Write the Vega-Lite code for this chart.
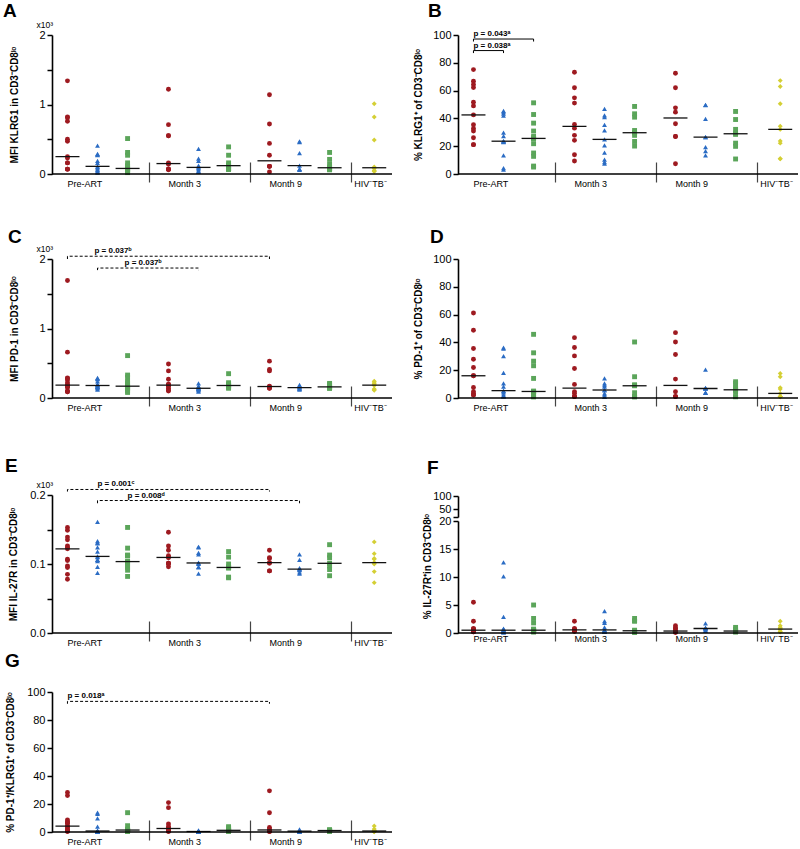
{
"$schema":"https://vega.github.io/schema/vega-lite/v6.json",
"background":"white",
"padding":{"left":3,"top":0,"right":0,"bottom":0},
"config":{"view":{"stroke":null},"font":"Liberation Sans",
"axis":{"grid":false,"domainColor":"#000","tickColor":"#000","labelColor":"#000","titleColor":"#000","labelFont":"Liberation Sans","titleFont":"Liberation Sans"},
"axisY":{"domainWidth":1.6,"tickWidth":1.5,"tickSize":5,"labelFontSize":11,"labelPadding":2,"titleFontSize":10,"titleFontWeight":"bold","labelOverlap":false},
"title":{"font":"Liberation Sans","color":"#000"}},
"datasets":{
"A":[
{"time":"Pre-ART","group":"G1","value":1.34},{"time":"Pre-ART","group":"G1","value":0.82},{"time":"Pre-ART","group":"G1","value":0.81},{"time":"Pre-ART","group":"G1","value":0.76},{"time":"Pre-ART","group":"G1","value":0.5},{"time":"Pre-ART","group":"G1","value":0.47},{"time":"Pre-ART","group":"G1","value":0.25},{"time":"Pre-ART","group":"G1","value":0.23},{"time":"Pre-ART","group":"G1","value":0.16},{"time":"Pre-ART","group":"G1","value":0.16},{"time":"Pre-ART","group":"G1","value":0.07},{"time":"Pre-ART","group":"G1","value":0.07},{"time":"Pre-ART","group":"G1","value":0.07},
{"time":"Pre-ART","group":"G2","value":0.41},{"time":"Pre-ART","group":"G2","value":0.29},{"time":"Pre-ART","group":"G2","value":0.28},{"time":"Pre-ART","group":"G2","value":0.27},{"time":"Pre-ART","group":"G2","value":0.19},{"time":"Pre-ART","group":"G2","value":0.16},{"time":"Pre-ART","group":"G2","value":0.11},{"time":"Pre-ART","group":"G2","value":0.1},{"time":"Pre-ART","group":"G2","value":0.08},{"time":"Pre-ART","group":"G2","value":0.06},{"time":"Pre-ART","group":"G2","value":0.05},{"time":"Pre-ART","group":"G2","value":0.03},{"time":"Pre-ART","group":"G2","value":0.02},
{"time":"Pre-ART","group":"G3","value":0.51},{"time":"Pre-ART","group":"G3","value":0.31},{"time":"Pre-ART","group":"G3","value":0.27},{"time":"Pre-ART","group":"G3","value":0.16},{"time":"Pre-ART","group":"G3","value":0.12},{"time":"Pre-ART","group":"G3","value":0.1},{"time":"Pre-ART","group":"G3","value":0.08},{"time":"Pre-ART","group":"G3","value":0.07},{"time":"Pre-ART","group":"G3","value":0.06},{"time":"Pre-ART","group":"G3","value":0.05},{"time":"Pre-ART","group":"G3","value":0.04},{"time":"Pre-ART","group":"G3","value":0.03},{"time":"Pre-ART","group":"G3","value":0.02},
{"time":"Month 3","group":"G1","value":1.22},{"time":"Month 3","group":"G1","value":0.71},{"time":"Month 3","group":"G1","value":0.55},{"time":"Month 3","group":"G1","value":0.55},{"time":"Month 3","group":"G1","value":0.16},{"time":"Month 3","group":"G1","value":0.14},{"time":"Month 3","group":"G1","value":0.07},{"time":"Month 3","group":"G1","value":0.07},{"time":"Month 3","group":"G1","value":0.07},{"time":"Month 3","group":"G1","value":0.06},
{"time":"Month 3","group":"G2","value":0.36},{"time":"Month 3","group":"G2","value":0.22},{"time":"Month 3","group":"G2","value":0.19},{"time":"Month 3","group":"G2","value":0.12},{"time":"Month 3","group":"G2","value":0.1},{"time":"Month 3","group":"G2","value":0.09},{"time":"Month 3","group":"G2","value":0.07},{"time":"Month 3","group":"G2","value":0.05},{"time":"Month 3","group":"G2","value":0.03},{"time":"Month 3","group":"G2","value":0.03},
{"time":"Month 3","group":"G3","value":0.39},{"time":"Month 3","group":"G3","value":0.27},{"time":"Month 3","group":"G3","value":0.16},{"time":"Month 3","group":"G3","value":0.13},{"time":"Month 3","group":"G3","value":0.12},{"time":"Month 3","group":"G3","value":0.07},{"time":"Month 3","group":"G3","value":0.07},{"time":"Month 3","group":"G3","value":0.07},{"time":"Month 3","group":"G3","value":0.07},
{"time":"Month 9","group":"G1","value":1.14},{"time":"Month 9","group":"G1","value":0.72},{"time":"Month 9","group":"G1","value":0.44},{"time":"Month 9","group":"G1","value":0.27},{"time":"Month 9","group":"G1","value":0.11},{"time":"Month 9","group":"G1","value":0.11},{"time":"Month 9","group":"G1","value":0.11},{"time":"Month 9","group":"G1","value":0.03},
{"time":"Month 9","group":"G2","value":0.47},{"time":"Month 9","group":"G2","value":0.46},{"time":"Month 9","group":"G2","value":0.3},{"time":"Month 9","group":"G2","value":0.12},{"time":"Month 9","group":"G2","value":0.07},{"time":"Month 9","group":"G2","value":0.07},{"time":"Month 9","group":"G2","value":0.06},
{"time":"Month 9","group":"G3","value":0.31},{"time":"Month 9","group":"G3","value":0.21},{"time":"Month 9","group":"G3","value":0.14},{"time":"Month 9","group":"G3","value":0.1},{"time":"Month 9","group":"G3","value":0.08},{"time":"Month 9","group":"G3","value":0.07},{"time":"Month 9","group":"G3","value":0.07},{"time":"Month 9","group":"G3","value":0.06},
{"time":"HIV⁻TB⁻","group":"HIV","value":1.01},{"time":"HIV⁻TB⁻","group":"HIV","value":0.82},{"time":"HIV⁻TB⁻","group":"HIV","value":0.49},{"time":"HIV⁻TB⁻","group":"HIV","value":0.1},{"time":"HIV⁻TB⁻","group":"HIV","value":0.08},{"time":"HIV⁻TB⁻","group":"HIV","value":0.05},{"time":"HIV⁻TB⁻","group":"HIV","value":0.04},{"time":"HIV⁻TB⁻","group":"HIV","value":0.04}
],
"B":[
{"time":"Pre-ART","group":"G1","value":75.1},{"time":"Pre-ART","group":"G1","value":66.7},{"time":"Pre-ART","group":"G1","value":64.4},{"time":"Pre-ART","group":"G1","value":62.2},{"time":"Pre-ART","group":"G1","value":51.7},{"time":"Pre-ART","group":"G1","value":49},{"time":"Pre-ART","group":"G1","value":42.5},{"time":"Pre-ART","group":"G1","value":35.4},{"time":"Pre-ART","group":"G1","value":32.8},{"time":"Pre-ART","group":"G1","value":30.9},{"time":"Pre-ART","group":"G1","value":26.1},{"time":"Pre-ART","group":"G1","value":21.1},{"time":"Pre-ART","group":"G1","value":21.1},
{"time":"Pre-ART","group":"G2","value":45.5},{"time":"Pre-ART","group":"G2","value":44.5},{"time":"Pre-ART","group":"G2","value":43.5},{"time":"Pre-ART","group":"G2","value":42},{"time":"Pre-ART","group":"G2","value":29.7},{"time":"Pre-ART","group":"G2","value":27.3},{"time":"Pre-ART","group":"G2","value":23.6},{"time":"Pre-ART","group":"G2","value":23.4},{"time":"Pre-ART","group":"G2","value":23.4},{"time":"Pre-ART","group":"G2","value":23},{"time":"Pre-ART","group":"G2","value":13.4},{"time":"Pre-ART","group":"G2","value":4.3},{"time":"Pre-ART","group":"G2","value":3.1},
{"time":"Pre-ART","group":"G3","value":51.2},{"time":"Pre-ART","group":"G3","value":42.8},{"time":"Pre-ART","group":"G3","value":36.6},{"time":"Pre-ART","group":"G3","value":30.9},{"time":"Pre-ART","group":"G3","value":27},{"time":"Pre-ART","group":"G3","value":26.1},{"time":"Pre-ART","group":"G3","value":25.6},{"time":"Pre-ART","group":"G3","value":25.2},{"time":"Pre-ART","group":"G3","value":21.8},{"time":"Pre-ART","group":"G3","value":15.1},{"time":"Pre-ART","group":"G3","value":12.7},{"time":"Pre-ART","group":"G3","value":5.7},{"time":"Pre-ART","group":"G3","value":5},
{"time":"Month 3","group":"G1","value":73.2},{"time":"Month 3","group":"G1","value":62},{"time":"Month 3","group":"G1","value":54.8},{"time":"Month 3","group":"G1","value":51},{"time":"Month 3","group":"G1","value":35.6},{"time":"Month 3","group":"G1","value":33},{"time":"Month 3","group":"G1","value":27.8},{"time":"Month 3","group":"G1","value":24.2},{"time":"Month 3","group":"G1","value":13.9},{"time":"Month 3","group":"G1","value":9.3},
{"time":"Month 3","group":"G2","value":46.9},{"time":"Month 3","group":"G2","value":42.1},{"time":"Month 3","group":"G2","value":40.9},{"time":"Month 3","group":"G2","value":35.4},{"time":"Month 3","group":"G2","value":31.3},{"time":"Month 3","group":"G2","value":24.9},{"time":"Month 3","group":"G2","value":20.6},{"time":"Month 3","group":"G2","value":15.3},{"time":"Month 3","group":"G2","value":10.3},{"time":"Month 3","group":"G2","value":8.6},{"time":"Month 3","group":"G2","value":7.4},
{"time":"Month 3","group":"G3","value":48.6},{"time":"Month 3","group":"G3","value":43.3},{"time":"Month 3","group":"G3","value":40.9},{"time":"Month 3","group":"G3","value":31.3},{"time":"Month 3","group":"G3","value":29.7},{"time":"Month 3","group":"G3","value":29.5},{"time":"Month 3","group":"G3","value":27.8},{"time":"Month 3","group":"G3","value":23.4},{"time":"Month 3","group":"G3","value":20.1},
{"time":"Month 9","group":"G1","value":72.5},{"time":"Month 9","group":"G1","value":62},{"time":"Month 9","group":"G1","value":47.6},{"time":"Month 9","group":"G1","value":44.5},{"time":"Month 9","group":"G1","value":36.1},{"time":"Month 9","group":"G1","value":27},{"time":"Month 9","group":"G1","value":27},{"time":"Month 9","group":"G1","value":7.4},
{"time":"Month 9","group":"G2","value":49.8},{"time":"Month 9","group":"G2","value":49.5},{"time":"Month 9","group":"G2","value":39.7},{"time":"Month 9","group":"G2","value":26.6},{"time":"Month 9","group":"G2","value":26.6},{"time":"Month 9","group":"G2","value":19.4},{"time":"Month 9","group":"G2","value":16.5},{"time":"Month 9","group":"G2","value":13.4},
{"time":"Month 9","group":"G3","value":45},{"time":"Month 9","group":"G3","value":39.2},{"time":"Month 9","group":"G3","value":32.1},{"time":"Month 9","group":"G3","value":29.4},{"time":"Month 9","group":"G3","value":28.5},{"time":"Month 9","group":"G3","value":22.2},{"time":"Month 9","group":"G3","value":19.9},{"time":"Month 9","group":"G3","value":10.8},
{"time":"HIV⁻TB⁻","group":"HIV","value":67.2},{"time":"HIV⁻TB⁻","group":"HIV","value":62.9},{"time":"HIV⁻TB⁻","group":"HIV","value":50.5},{"time":"HIV⁻TB⁻","group":"HIV","value":34.4},{"time":"HIV⁻TB⁻","group":"HIV","value":32.1},{"time":"HIV⁻TB⁻","group":"HIV","value":23.7},{"time":"HIV⁻TB⁻","group":"HIV","value":22.2},{"time":"HIV⁻TB⁻","group":"HIV","value":11},{"time":"HIV⁻TB⁻","group":"HIV","value":11}
],
"C":[
{"time":"Pre-ART","group":"G1","value":1.69},{"time":"Pre-ART","group":"G1","value":0.66},{"time":"Pre-ART","group":"G1","value":0.29},{"time":"Pre-ART","group":"G1","value":0.28},{"time":"Pre-ART","group":"G1","value":0.26},{"time":"Pre-ART","group":"G1","value":0.22},{"time":"Pre-ART","group":"G1","value":0.19},{"time":"Pre-ART","group":"G1","value":0.18},{"time":"Pre-ART","group":"G1","value":0.17},{"time":"Pre-ART","group":"G1","value":0.16},{"time":"Pre-ART","group":"G1","value":0.15},{"time":"Pre-ART","group":"G1","value":0.1},{"time":"Pre-ART","group":"G1","value":0.09},{"time":"Pre-ART","group":"G1","value":0.09},
{"time":"Pre-ART","group":"G2","value":0.29},{"time":"Pre-ART","group":"G2","value":0.28},{"time":"Pre-ART","group":"G2","value":0.27},{"time":"Pre-ART","group":"G2","value":0.24},{"time":"Pre-ART","group":"G2","value":0.2},{"time":"Pre-ART","group":"G2","value":0.19},{"time":"Pre-ART","group":"G2","value":0.18},{"time":"Pre-ART","group":"G2","value":0.17},{"time":"Pre-ART","group":"G2","value":0.16},{"time":"Pre-ART","group":"G2","value":0.16},{"time":"Pre-ART","group":"G2","value":0.15},{"time":"Pre-ART","group":"G2","value":0.14},{"time":"Pre-ART","group":"G2","value":0.12},
{"time":"Pre-ART","group":"G3","value":0.61},{"time":"Pre-ART","group":"G3","value":0.33},{"time":"Pre-ART","group":"G3","value":0.3},{"time":"Pre-ART","group":"G3","value":0.24},{"time":"Pre-ART","group":"G3","value":0.22},{"time":"Pre-ART","group":"G3","value":0.19},{"time":"Pre-ART","group":"G3","value":0.17},{"time":"Pre-ART","group":"G3","value":0.16},{"time":"Pre-ART","group":"G3","value":0.15},{"time":"Pre-ART","group":"G3","value":0.14},{"time":"Pre-ART","group":"G3","value":0.13},{"time":"Pre-ART","group":"G3","value":0.1},{"time":"Pre-ART","group":"G3","value":0.08},
{"time":"Month 3","group":"G1","value":0.49},{"time":"Month 3","group":"G1","value":0.39},{"time":"Month 3","group":"G1","value":0.27},{"time":"Month 3","group":"G1","value":0.2},{"time":"Month 3","group":"G1","value":0.19},{"time":"Month 3","group":"G1","value":0.18},{"time":"Month 3","group":"G1","value":0.17},{"time":"Month 3","group":"G1","value":0.14},{"time":"Month 3","group":"G1","value":0.11},{"time":"Month 3","group":"G1","value":0.1},
{"time":"Month 3","group":"G2","value":0.21},{"time":"Month 3","group":"G2","value":0.17},{"time":"Month 3","group":"G2","value":0.16},{"time":"Month 3","group":"G2","value":0.15},{"time":"Month 3","group":"G2","value":0.14},{"time":"Month 3","group":"G2","value":0.14},{"time":"Month 3","group":"G2","value":0.13},{"time":"Month 3","group":"G2","value":0.12},{"time":"Month 3","group":"G2","value":0.11},{"time":"Month 3","group":"G2","value":0.09},
{"time":"Month 3","group":"G3","value":0.35},{"time":"Month 3","group":"G3","value":0.22},{"time":"Month 3","group":"G3","value":0.2},{"time":"Month 3","group":"G3","value":0.19},{"time":"Month 3","group":"G3","value":0.18},{"time":"Month 3","group":"G3","value":0.17},{"time":"Month 3","group":"G3","value":0.16},{"time":"Month 3","group":"G3","value":0.15},{"time":"Month 3","group":"G3","value":0.14},
{"time":"Month 9","group":"G1","value":0.53},{"time":"Month 9","group":"G1","value":0.41},{"time":"Month 9","group":"G1","value":0.39},{"time":"Month 9","group":"G1","value":0.17},{"time":"Month 9","group":"G1","value":0.16},{"time":"Month 9","group":"G1","value":0.15},{"time":"Month 9","group":"G1","value":0.14},{"time":"Month 9","group":"G1","value":0.14},
{"time":"Month 9","group":"G2","value":0.19},{"time":"Month 9","group":"G2","value":0.17},{"time":"Month 9","group":"G2","value":0.16},{"time":"Month 9","group":"G2","value":0.15},{"time":"Month 9","group":"G2","value":0.14},{"time":"Month 9","group":"G2","value":0.13},{"time":"Month 9","group":"G2","value":0.12},
{"time":"Month 9","group":"G3","value":0.21},{"time":"Month 9","group":"G3","value":0.2},{"time":"Month 9","group":"G3","value":0.18},{"time":"Month 9","group":"G3","value":0.16},{"time":"Month 9","group":"G3","value":0.16},{"time":"Month 9","group":"G3","value":0.15},{"time":"Month 9","group":"G3","value":0.14},{"time":"Month 9","group":"G3","value":0.14},
{"time":"HIV⁻TB⁻","group":"HIV","value":0.24},{"time":"HIV⁻TB⁻","group":"HIV","value":0.23},{"time":"HIV⁻TB⁻","group":"HIV","value":0.21},{"time":"HIV⁻TB⁻","group":"HIV","value":0.19},{"time":"HIV⁻TB⁻","group":"HIV","value":0.18},{"time":"HIV⁻TB⁻","group":"HIV","value":0.13},{"time":"HIV⁻TB⁻","group":"HIV","value":0.12},{"time":"HIV⁻TB⁻","group":"HIV","value":0.11}
],
"D":[
{"time":"Pre-ART","group":"G1","value":61.1},{"time":"Pre-ART","group":"G1","value":48.7},{"time":"Pre-ART","group":"G1","value":35.6},{"time":"Pre-ART","group":"G1","value":27.9},{"time":"Pre-ART","group":"G1","value":21.9},{"time":"Pre-ART","group":"G1","value":16},{"time":"Pre-ART","group":"G1","value":16},{"time":"Pre-ART","group":"G1","value":7.6},{"time":"Pre-ART","group":"G1","value":4.5},{"time":"Pre-ART","group":"G1","value":3.3},{"time":"Pre-ART","group":"G1","value":2.1},{"time":"Pre-ART","group":"G1","value":2.1},
{"time":"Pre-ART","group":"G2","value":36.3},{"time":"Pre-ART","group":"G2","value":35.6},{"time":"Pre-ART","group":"G2","value":30.1},{"time":"Pre-ART","group":"G2","value":18.1},{"time":"Pre-ART","group":"G2","value":10.5},{"time":"Pre-ART","group":"G2","value":8.1},{"time":"Pre-ART","group":"G2","value":5.3},{"time":"Pre-ART","group":"G2","value":5},{"time":"Pre-ART","group":"G2","value":4.1},{"time":"Pre-ART","group":"G2","value":2.6},{"time":"Pre-ART","group":"G2","value":1.4},{"time":"Pre-ART","group":"G2","value":1.4},{"time":"Pre-ART","group":"G2","value":1.2},
{"time":"Pre-ART","group":"G3","value":45.8},{"time":"Pre-ART","group":"G3","value":32.5},{"time":"Pre-ART","group":"G3","value":26.5},{"time":"Pre-ART","group":"G3","value":23.2},{"time":"Pre-ART","group":"G3","value":14.1},{"time":"Pre-ART","group":"G3","value":5},{"time":"Pre-ART","group":"G3","value":4.7},{"time":"Pre-ART","group":"G3","value":4.5},{"time":"Pre-ART","group":"G3","value":4.3},{"time":"Pre-ART","group":"G3","value":3.5},{"time":"Pre-ART","group":"G3","value":2.1},{"time":"Pre-ART","group":"G3","value":1},{"time":"Pre-ART","group":"G3","value":0.8},
{"time":"Month 3","group":"G1","value":43.4},{"time":"Month 3","group":"G1","value":36.3},{"time":"Month 3","group":"G1","value":30.3},{"time":"Month 3","group":"G1","value":21.2},{"time":"Month 3","group":"G1","value":9.8},{"time":"Month 3","group":"G1","value":4.5},{"time":"Month 3","group":"G1","value":3.3},{"time":"Month 3","group":"G1","value":1},{"time":"Month 3","group":"G1","value":1},{"time":"Month 3","group":"G1","value":1},
{"time":"Month 3","group":"G2","value":14.1},{"time":"Month 3","group":"G2","value":10.5},{"time":"Month 3","group":"G2","value":9.3},{"time":"Month 3","group":"G2","value":8.1},{"time":"Month 3","group":"G2","value":6},{"time":"Month 3","group":"G2","value":5.5},{"time":"Month 3","group":"G2","value":3.3},{"time":"Month 3","group":"G2","value":2.5},{"time":"Month 3","group":"G2","value":1},{"time":"Month 3","group":"G2","value":0.8},
{"time":"Month 3","group":"G3","value":40.3},{"time":"Month 3","group":"G3","value":15.3},{"time":"Month 3","group":"G3","value":9.5},{"time":"Month 3","group":"G3","value":9.1},{"time":"Month 3","group":"G3","value":8.8},{"time":"Month 3","group":"G3","value":3.8},{"time":"Month 3","group":"G3","value":1},{"time":"Month 3","group":"G3","value":1},{"time":"Month 3","group":"G3","value":0.8},
{"time":"Month 9","group":"G1","value":47},{"time":"Month 9","group":"G1","value":40.3},{"time":"Month 9","group":"G1","value":31.3},{"time":"Month 9","group":"G1","value":13.6},{"time":"Month 9","group":"G1","value":4.5},{"time":"Month 9","group":"G1","value":1},{"time":"Month 9","group":"G1","value":1},{"time":"Month 9","group":"G1","value":1},
{"time":"Month 9","group":"G2","value":20.5},{"time":"Month 9","group":"G2","value":7.2},{"time":"Month 9","group":"G2","value":7},{"time":"Month 9","group":"G2","value":6.9},{"time":"Month 9","group":"G2","value":6.8},{"time":"Month 9","group":"G2","value":3.8},{"time":"Month 9","group":"G2","value":3.8},{"time":"Month 9","group":"G2","value":3.6},
{"time":"Month 9","group":"G3","value":11.7},{"time":"Month 9","group":"G3","value":10.5},{"time":"Month 9","group":"G3","value":8},{"time":"Month 9","group":"G3","value":6.9},{"time":"Month 9","group":"G3","value":5.9},{"time":"Month 9","group":"G3","value":5.5},{"time":"Month 9","group":"G3","value":4.5},{"time":"Month 9","group":"G3","value":1},{"time":"Month 9","group":"G3","value":0.9},
{"time":"HIV⁻TB⁻","group":"HIV","value":17.7},{"time":"HIV⁻TB⁻","group":"HIV","value":15.3},{"time":"HIV⁻TB⁻","group":"HIV","value":7.4},{"time":"HIV⁻TB⁻","group":"HIV","value":6.4},{"time":"HIV⁻TB⁻","group":"HIV","value":3.3},{"time":"HIV⁻TB⁻","group":"HIV","value":1},{"time":"HIV⁻TB⁻","group":"HIV","value":1},{"time":"HIV⁻TB⁻","group":"HIV","value":0.9},{"time":"HIV⁻TB⁻","group":"HIV","value":0.9}
],
"E":[
{"time":"Pre-ART","group":"G1","value":0.153},{"time":"Pre-ART","group":"G1","value":0.149},{"time":"Pre-ART","group":"G1","value":0.139},{"time":"Pre-ART","group":"G1","value":0.135},{"time":"Pre-ART","group":"G1","value":0.126},{"time":"Pre-ART","group":"G1","value":0.124},{"time":"Pre-ART","group":"G1","value":0.122},{"time":"Pre-ART","group":"G1","value":0.107},{"time":"Pre-ART","group":"G1","value":0.105},{"time":"Pre-ART","group":"G1","value":0.097},{"time":"Pre-ART","group":"G1","value":0.095},{"time":"Pre-ART","group":"G1","value":0.085},{"time":"Pre-ART","group":"G1","value":0.078},
{"time":"Pre-ART","group":"G2","value":0.161},{"time":"Pre-ART","group":"G2","value":0.133},{"time":"Pre-ART","group":"G2","value":0.131},{"time":"Pre-ART","group":"G2","value":0.13},{"time":"Pre-ART","group":"G2","value":0.124},{"time":"Pre-ART","group":"G2","value":0.118},{"time":"Pre-ART","group":"G2","value":0.111},{"time":"Pre-ART","group":"G2","value":0.11},{"time":"Pre-ART","group":"G2","value":0.106},{"time":"Pre-ART","group":"G2","value":0.106},{"time":"Pre-ART","group":"G2","value":0.104},{"time":"Pre-ART","group":"G2","value":0.096},{"time":"Pre-ART","group":"G2","value":0.087},
{"time":"Pre-ART","group":"G3","value":0.153},{"time":"Pre-ART","group":"G3","value":0.123},{"time":"Pre-ART","group":"G3","value":0.113},{"time":"Pre-ART","group":"G3","value":0.112},{"time":"Pre-ART","group":"G3","value":0.112},{"time":"Pre-ART","group":"G3","value":0.104},{"time":"Pre-ART","group":"G3","value":0.103},{"time":"Pre-ART","group":"G3","value":0.101},{"time":"Pre-ART","group":"G3","value":0.097},{"time":"Pre-ART","group":"G3","value":0.095},{"time":"Pre-ART","group":"G3","value":0.091},{"time":"Pre-ART","group":"G3","value":0.082},
{"time":"Month 3","group":"G1","value":0.146},{"time":"Month 3","group":"G1","value":0.126},{"time":"Month 3","group":"G1","value":0.12},{"time":"Month 3","group":"G1","value":0.112},{"time":"Month 3","group":"G1","value":0.11},{"time":"Month 3","group":"G1","value":0.109},{"time":"Month 3","group":"G1","value":0.101},{"time":"Month 3","group":"G1","value":0.101},{"time":"Month 3","group":"G1","value":0.1},{"time":"Month 3","group":"G1","value":0.096},
{"time":"Month 3","group":"G2","value":0.125},{"time":"Month 3","group":"G2","value":0.124},{"time":"Month 3","group":"G2","value":0.116},{"time":"Month 3","group":"G2","value":0.114},{"time":"Month 3","group":"G2","value":0.102},{"time":"Month 3","group":"G2","value":0.101},{"time":"Month 3","group":"G2","value":0.1},{"time":"Month 3","group":"G2","value":0.096},{"time":"Month 3","group":"G2","value":0.095},{"time":"Month 3","group":"G2","value":0.086},
{"time":"Month 3","group":"G3","value":0.118},{"time":"Month 3","group":"G3","value":0.11},{"time":"Month 3","group":"G3","value":0.1},{"time":"Month 3","group":"G3","value":0.096},{"time":"Month 3","group":"G3","value":0.095},{"time":"Month 3","group":"G3","value":0.095},{"time":"Month 3","group":"G3","value":0.094},{"time":"Month 3","group":"G3","value":0.081},{"time":"Month 3","group":"G3","value":0.08},
{"time":"Month 9","group":"G1","value":0.12},{"time":"Month 9","group":"G1","value":0.109},{"time":"Month 9","group":"G1","value":0.108},{"time":"Month 9","group":"G1","value":0.102},{"time":"Month 9","group":"G1","value":0.101},{"time":"Month 9","group":"G1","value":0.09},{"time":"Month 9","group":"G1","value":0.09},
{"time":"Month 9","group":"G2","value":0.114},{"time":"Month 9","group":"G2","value":0.106},{"time":"Month 9","group":"G2","value":0.094},{"time":"Month 9","group":"G2","value":0.093},{"time":"Month 9","group":"G2","value":0.092},{"time":"Month 9","group":"G2","value":0.091},{"time":"Month 9","group":"G2","value":0.088},{"time":"Month 9","group":"G2","value":0.086},
{"time":"Month 9","group":"G3","value":0.128},{"time":"Month 9","group":"G3","value":0.113},{"time":"Month 9","group":"G3","value":0.109},{"time":"Month 9","group":"G3","value":0.101},{"time":"Month 9","group":"G3","value":0.097},{"time":"Month 9","group":"G3","value":0.092},{"time":"Month 9","group":"G3","value":0.083},
{"time":"HIV⁻TB⁻","group":"HIV","value":0.132},{"time":"HIV⁻TB⁻","group":"HIV","value":0.115},{"time":"HIV⁻TB⁻","group":"HIV","value":0.108},{"time":"HIV⁻TB⁻","group":"HIV","value":0.107},{"time":"HIV⁻TB⁻","group":"HIV","value":0.102},{"time":"HIV⁻TB⁻","group":"HIV","value":0.101},{"time":"HIV⁻TB⁻","group":"HIV","value":0.1},{"time":"HIV⁻TB⁻","group":"HIV","value":0.089},{"time":"HIV⁻TB⁻","group":"HIV","value":0.073}
],
"F":[
{"time":"Pre-ART","group":"G1","value":5.5},{"time":"Pre-ART","group":"G1","value":2.1},{"time":"Pre-ART","group":"G1","value":0.8},{"time":"Pre-ART","group":"G1","value":0.7},{"time":"Pre-ART","group":"G1","value":0.7},{"time":"Pre-ART","group":"G1","value":0.6},{"time":"Pre-ART","group":"G1","value":0.5},{"time":"Pre-ART","group":"G1","value":0.4},{"time":"Pre-ART","group":"G1","value":0.4},{"time":"Pre-ART","group":"G1","value":0.3},{"time":"Pre-ART","group":"G1","value":0.3},{"time":"Pre-ART","group":"G1","value":0.2},{"time":"Pre-ART","group":"G1","value":0.2},
{"time":"Pre-ART","group":"G2","value":12.6},{"time":"Pre-ART","group":"G2","value":10.1},{"time":"Pre-ART","group":"G2","value":2.9},{"time":"Pre-ART","group":"G2","value":0.8},{"time":"Pre-ART","group":"G2","value":0.7},{"time":"Pre-ART","group":"G2","value":0.6},{"time":"Pre-ART","group":"G2","value":0.5},{"time":"Pre-ART","group":"G2","value":0.4},{"time":"Pre-ART","group":"G2","value":0.3},{"time":"Pre-ART","group":"G2","value":0.2},{"time":"Pre-ART","group":"G2","value":0.2},{"time":"Pre-ART","group":"G2","value":0.1},{"time":"Pre-ART","group":"G2","value":0.1},
{"time":"Pre-ART","group":"G3","value":5},{"time":"Pre-ART","group":"G3","value":2.6},{"time":"Pre-ART","group":"G3","value":1.8},{"time":"Pre-ART","group":"G3","value":0.7},{"time":"Pre-ART","group":"G3","value":0.6},{"time":"Pre-ART","group":"G3","value":0.6},{"time":"Pre-ART","group":"G3","value":0.5},{"time":"Pre-ART","group":"G3","value":0.5},{"time":"Pre-ART","group":"G3","value":0.4},{"time":"Pre-ART","group":"G3","value":0.3},{"time":"Pre-ART","group":"G3","value":0.3},{"time":"Pre-ART","group":"G3","value":0.2},{"time":"Pre-ART","group":"G3","value":0.2},
{"time":"Month 3","group":"G1","value":2.1},{"time":"Month 3","group":"G1","value":0.8},{"time":"Month 3","group":"G1","value":0.7},{"time":"Month 3","group":"G1","value":0.6},{"time":"Month 3","group":"G1","value":0.6},{"time":"Month 3","group":"G1","value":0.5},{"time":"Month 3","group":"G1","value":0.5},{"time":"Month 3","group":"G1","value":0.4},{"time":"Month 3","group":"G1","value":0.3},{"time":"Month 3","group":"G1","value":0.3},
{"time":"Month 3","group":"G2","value":3.9},{"time":"Month 3","group":"G2","value":2.1},{"time":"Month 3","group":"G2","value":1.8},{"time":"Month 3","group":"G2","value":1},{"time":"Month 3","group":"G2","value":0.6},{"time":"Month 3","group":"G2","value":0.5},{"time":"Month 3","group":"G2","value":0.4},{"time":"Month 3","group":"G2","value":0.3},{"time":"Month 3","group":"G2","value":0.2},{"time":"Month 3","group":"G2","value":0.2},
{"time":"Month 3","group":"G3","value":2.6},{"time":"Month 3","group":"G3","value":2.2},{"time":"Month 3","group":"G3","value":2.1},{"time":"Month 3","group":"G3","value":0.5},{"time":"Month 3","group":"G3","value":0.4},{"time":"Month 3","group":"G3","value":0.3},{"time":"Month 3","group":"G3","value":0.2},{"time":"Month 3","group":"G3","value":0.2},{"time":"Month 3","group":"G3","value":0.1},
{"time":"Month 9","group":"G1","value":1.3},{"time":"Month 9","group":"G1","value":0.9},{"time":"Month 9","group":"G1","value":0.8},{"time":"Month 9","group":"G1","value":0.4},{"time":"Month 9","group":"G1","value":0.3},{"time":"Month 9","group":"G1","value":0.2},{"time":"Month 9","group":"G1","value":0.2},{"time":"Month 9","group":"G1","value":0.1},
{"time":"Month 9","group":"G2","value":1.7},{"time":"Month 9","group":"G2","value":0.9},{"time":"Month 9","group":"G2","value":0.9},{"time":"Month 9","group":"G2","value":0.8},{"time":"Month 9","group":"G2","value":0.8},{"time":"Month 9","group":"G2","value":0.5},{"time":"Month 9","group":"G2","value":0.4},
{"time":"Month 9","group":"G3","value":1},{"time":"Month 9","group":"G3","value":0.7},{"time":"Month 9","group":"G3","value":0.5},{"time":"Month 9","group":"G3","value":0.4},{"time":"Month 9","group":"G3","value":0.3},{"time":"Month 9","group":"G3","value":0.3},{"time":"Month 9","group":"G3","value":0.2},{"time":"Month 9","group":"G3","value":0.2},
{"time":"HIV⁻TB⁻","group":"HIV","value":2.1},{"time":"HIV⁻TB⁻","group":"HIV","value":1.3},{"time":"HIV⁻TB⁻","group":"HIV","value":1},{"time":"HIV⁻TB⁻","group":"HIV","value":0.8},{"time":"HIV⁻TB⁻","group":"HIV","value":0.7},{"time":"HIV⁻TB⁻","group":"HIV","value":0.6},{"time":"HIV⁻TB⁻","group":"HIV","value":0.3},{"time":"HIV⁻TB⁻","group":"HIV","value":0.2},{"time":"HIV⁻TB⁻","group":"HIV","value":0.2}
],
"G":[
{"time":"Pre-ART","group":"G1","value":28.2},{"time":"Pre-ART","group":"G1","value":26},{"time":"Pre-ART","group":"G1","value":8.6},{"time":"Pre-ART","group":"G1","value":7.4},{"time":"Pre-ART","group":"G1","value":6.7},{"time":"Pre-ART","group":"G1","value":6.2},{"time":"Pre-ART","group":"G1","value":4.5},{"time":"Pre-ART","group":"G1","value":3.8},{"time":"Pre-ART","group":"G1","value":3},{"time":"Pre-ART","group":"G1","value":2},{"time":"Pre-ART","group":"G1","value":1.2},{"time":"Pre-ART","group":"G1","value":0.8},{"time":"Pre-ART","group":"G1","value":0.5},{"time":"Pre-ART","group":"G1","value":0.3},
{"time":"Pre-ART","group":"G2","value":13.8},{"time":"Pre-ART","group":"G2","value":12.9},{"time":"Pre-ART","group":"G2","value":9.8},{"time":"Pre-ART","group":"G2","value":3.8},{"time":"Pre-ART","group":"G2","value":1},{"time":"Pre-ART","group":"G2","value":0.8},{"time":"Pre-ART","group":"G2","value":0.7},{"time":"Pre-ART","group":"G2","value":0.6},{"time":"Pre-ART","group":"G2","value":0.5},{"time":"Pre-ART","group":"G2","value":0.4},{"time":"Pre-ART","group":"G2","value":0.3},{"time":"Pre-ART","group":"G2","value":0.2},{"time":"Pre-ART","group":"G2","value":0.1},
{"time":"Pre-ART","group":"G3","value":13.8},{"time":"Pre-ART","group":"G3","value":4.5},{"time":"Pre-ART","group":"G3","value":2},{"time":"Pre-ART","group":"G3","value":1.6},{"time":"Pre-ART","group":"G3","value":1.5},{"time":"Pre-ART","group":"G3","value":1.4},{"time":"Pre-ART","group":"G3","value":1.4},{"time":"Pre-ART","group":"G3","value":1.2},{"time":"Pre-ART","group":"G3","value":1},{"time":"Pre-ART","group":"G3","value":0.8},{"time":"Pre-ART","group":"G3","value":0.6},{"time":"Pre-ART","group":"G3","value":0.5},{"time":"Pre-ART","group":"G3","value":0.3},
{"time":"Month 3","group":"G1","value":21},{"time":"Month 3","group":"G1","value":17.4},{"time":"Month 3","group":"G1","value":5.7},{"time":"Month 3","group":"G1","value":3.8},{"time":"Month 3","group":"G1","value":3},{"time":"Month 3","group":"G1","value":2},{"time":"Month 3","group":"G1","value":1.2},{"time":"Month 3","group":"G1","value":0.8},{"time":"Month 3","group":"G1","value":0.5},{"time":"Month 3","group":"G1","value":0.3},
{"time":"Month 3","group":"G2","value":1.2},{"time":"Month 3","group":"G2","value":0.8},{"time":"Month 3","group":"G2","value":0.6},{"time":"Month 3","group":"G2","value":0.5},{"time":"Month 3","group":"G2","value":0.4},{"time":"Month 3","group":"G2","value":0.3},{"time":"Month 3","group":"G2","value":0.3},{"time":"Month 3","group":"G2","value":0.2},{"time":"Month 3","group":"G2","value":0.1},{"time":"Month 3","group":"G2","value":0.1},
{"time":"Month 3","group":"G3","value":3.8},{"time":"Month 3","group":"G3","value":3},{"time":"Month 3","group":"G3","value":2.1},{"time":"Month 3","group":"G3","value":1.6},{"time":"Month 3","group":"G3","value":1.2},{"time":"Month 3","group":"G3","value":1},{"time":"Month 3","group":"G3","value":0.8},{"time":"Month 3","group":"G3","value":0.6},{"time":"Month 3","group":"G3","value":0.5},
{"time":"Month 9","group":"G1","value":29.4},{"time":"Month 9","group":"G1","value":13.8},{"time":"Month 9","group":"G1","value":3.3},{"time":"Month 9","group":"G1","value":2.1},{"time":"Month 9","group":"G1","value":0.8},{"time":"Month 9","group":"G1","value":0.6},{"time":"Month 9","group":"G1","value":0.4},{"time":"Month 9","group":"G1","value":0.3},
{"time":"Month 9","group":"G2","value":1.8},{"time":"Month 9","group":"G2","value":1},{"time":"Month 9","group":"G2","value":0.8},{"time":"Month 9","group":"G2","value":0.6},{"time":"Month 9","group":"G2","value":0.4},{"time":"Month 9","group":"G2","value":0.3},{"time":"Month 9","group":"G2","value":0.2},
{"time":"Month 9","group":"G3","value":1.6},{"time":"Month 9","group":"G3","value":1.4},{"time":"Month 9","group":"G3","value":1.2},{"time":"Month 9","group":"G3","value":1.1},{"time":"Month 9","group":"G3","value":1},{"time":"Month 9","group":"G3","value":0.8},{"time":"Month 9","group":"G3","value":0.6},{"time":"Month 9","group":"G3","value":0.5},
{"time":"HIV⁻TB⁻","group":"HIV","value":4.3},{"time":"HIV⁻TB⁻","group":"HIV","value":2.1},{"time":"HIV⁻TB⁻","group":"HIV","value":1.2},{"time":"HIV⁻TB⁻","group":"HIV","value":0.9},{"time":"HIV⁻TB⁻","group":"HIV","value":0.7},{"time":"HIV⁻TB⁻","group":"HIV","value":0.5},{"time":"HIV⁻TB⁻","group":"HIV","value":0.4},{"time":"HIV⁻TB⁻","group":"HIV","value":0.3},{"time":"HIV⁻TB⁻","group":"HIV","value":0.2}
],
"bracketLines":[
{"panel":"B","id":"b1","k":1,"time":"Pre-ART","group":"G1","value":95.3},{"panel":"B","id":"b1","k":2,"time":"Pre-ART","group":"G1","value":97.1},{"panel":"B","id":"b1","k":3,"time":"Pre-ART","group":"G3","value":97.1},{"panel":"B","id":"b1","k":4,"time":"Pre-ART","group":"G3","value":95.3},
{"panel":"B","id":"b2","k":1,"time":"Pre-ART","group":"G1","value":87},{"panel":"B","id":"b2","k":2,"time":"Pre-ART","group":"G1","value":88.8},{"panel":"B","id":"b2","k":3,"time":"Pre-ART","group":"G2","value":88.8},{"panel":"B","id":"b2","k":4,"time":"Pre-ART","group":"G2","value":87},
{"panel":"C","id":"c1","k":1,"time":"Pre-ART","group":"G1","value":2},{"panel":"C","id":"c1","k":2,"time":"Pre-ART","group":"G1","value":2.04},{"panel":"C","id":"c1","k":3,"time":"Month 9","group":"G1","value":2.04},{"panel":"C","id":"c1","k":4,"time":"Month 9","group":"G1","value":2},
{"panel":"C","id":"c2","k":1,"time":"Pre-ART","group":"G2","value":1.84},{"panel":"C","id":"c2","k":2,"time":"Pre-ART","group":"G2","value":1.87},{"panel":"C","id":"c2","k":3,"time":"Month 3","group":"G2","value":1.87},{"panel":"C","id":"c2","k":4,"time":"Month 3","group":"G2","value":1.84},
{"panel":"E","id":"e1","k":1,"time":"Pre-ART","group":"G1","value":0.205},{"panel":"E","id":"e1","k":2,"time":"Pre-ART","group":"G1","value":0.208},{"panel":"E","id":"e1","k":3,"time":"Month 9","group":"G1","value":0.208},{"panel":"E","id":"e1","k":4,"time":"Month 9","group":"G1","value":0.205},
{"panel":"E","id":"e2","k":1,"time":"Pre-ART","group":"G2","value":0.188},{"panel":"E","id":"e2","k":2,"time":"Pre-ART","group":"G2","value":0.192},{"panel":"E","id":"e2","k":3,"time":"Month 9","group":"G2","value":0.192},{"panel":"E","id":"e2","k":4,"time":"Month 9","group":"G2","value":0.188},
{"panel":"G","id":"g1","k":1,"time":"Pre-ART","group":"G1","value":91.6},{"panel":"G","id":"g1","k":2,"time":"Pre-ART","group":"G1","value":93.3},{"panel":"G","id":"g1","k":3,"time":"Month 9","group":"G1","value":93.3},{"panel":"G","id":"g1","k":4,"time":"Month 9","group":"G1","value":91.6}
],
"bracketText":[
{"panel":"B","label":"p = 0.043ᵃ","time":"Pre-ART","group":"G1","value":97.1},
{"panel":"B","label":"p = 0.038ᵃ","time":"Pre-ART","group":"G1","value":88.8},
{"panel":"C","label":"p = 0.037ᵇ","time":"Pre-ART","group":"G1","value":2.04},
{"panel":"C","label":"p = 0.037ᵇ","time":"Pre-ART","group":"G2","value":1.87},
{"panel":"E","label":"p = 0.001ᶜ","time":"Pre-ART","group":"G1","value":0.208},
{"panel":"E","label":"p = 0.008ᵈ","time":"Pre-ART","group":"G2","value":0.192},
{"panel":"G","label":"p = 0.018ᵃ","time":"Pre-ART","group":"G1","value":93.3}
]
},
"columns":2,"align":"each","bounds":"flush","spacing":{"row":0,"column":66},
"concat":[
{"title":{"text":"A","anchor":"start","frame":"group","fontSize":19,"fontWeight":"bold","baseline":"alphabetic","dx":-49,"offset":-36},
"width":340,"height":174,"data":{"name":"A"},
"layer":[
{"transform":[{"filter":{"not":{"field":"group","equal":"HIV"}}}],"mark":{"type":"point","filled":true,"opacity":1,"size":24},
"encoding":{"x":{"field":"time","type":"nominal","scale":{"type":"band","domain":["Pre-ART","Month 3","Month 9","HIV⁻TB⁻"],"range":[-4,400],"paddingInner":0,"paddingOuter":0},"axis":{"title":null,"domain":false,"bandPosition":0,"offset":-12,"tickSize":20,"tickWidth":1.2,"tickColor":{"condition":{"test":"datum.value === 'Pre-ART'","value":"transparent"},"value":"#444"},"labelOffset":-31,"labelPadding":-3,"labelAlign":{"condition":{"test":"datum.value === 'HIV⁻TB⁻'","value":"center"},"value":"left"},"labelAngle":0,"labelFontSize":9,"labelOverlap":false}},
"xOffset":{"field":"group","type":"nominal","scale":{"domain":["G1","G2","G3"],"paddingInner":0,"paddingOuter":0.18,"align":0.41}},
"y":{"field":"value","type":"quantitative","scale":{"domain":[0,2],"range":[174,35],"nice":false},"axis":{"title":"MFI KLRG1 in CD3⁻CD8ˡᵒ","values":[0,0.5,1,1.5,2],"tickCount":20,"labelExpr":"datum.value % 1 ? '' : datum.value","titlePadding":19,"labelOverlap":false}},
"color":{"field":"group","type":"nominal","scale":{"domain":["G1","G2","G3","HIV"],"range":["#9e1a20","#2b6cc4","#5ba55a","#d4cf34"]},"legend":null},
"shape":{"field":"group","type":"nominal","scale":{"domain":["G1","G2","G3","HIV"],"range":["circle","triangle-up","square","diamond"]},"legend":null}}},
{"transform":[{"filter":{"field":"group","equal":"HIV"}}],"mark":{"type":"point","filled":true,"opacity":1,"size":24},
"encoding":{"x":{"field":"time","type":"nominal","bandPosition":0.23},"y":{"field":"value","type":"quantitative"},"color":{"field":"group","type":"nominal","legend":null},"shape":{"field":"group","type":"nominal","legend":null}}},
{"transform":[{"filter":{"not":{"field":"group","equal":"HIV"}}}],"mark":{"type":"tick","color":"#111","size":24,"thickness":1.3},
"encoding":{"x":{"field":"time","type":"nominal"},"xOffset":{"field":"group","type":"nominal"},"y":{"aggregate":"median","field":"value","type":"quantitative"}}},
{"transform":[{"filter":{"field":"group","equal":"HIV"}}],"mark":{"type":"point","shape":"M-1,0H1","filled":false,"color":"#111","strokeWidth":1.3,"size":576,"opacity":1},
"encoding":{"x":{"field":"time","type":"nominal","bandPosition":0.23},"y":{"aggregate":"median","field":"value","type":"quantitative"}}},
{"data":{"values":[{}]},"mark":{"type":"rule","color":"#000","strokeWidth":1.6},"encoding":{"y":{"datum":0}}},
{"data":{"values":[{}]},"mark":{"type":"text","text":"x10³","align":"right","baseline":"alphabetic","fontSize":8.5,"dx":5,"dy":-7},"encoding":{"x":{"datum":"Pre-ART","bandPosition":0},"y":{"datum":2}}}
]},
{"title":{"text":"B","anchor":"start","frame":"group","fontSize":19,"fontWeight":"bold","baseline":"alphabetic","dx":-30,"offset":-36},
"width":340,"height":174,"data":{"name":"B"},
"resolve":{"scale":{"y":"independent"},"axis":{"y":"independent"}},
"layer":[
{"layer":[
{"transform":[{"filter":{"not":{"field":"group","equal":"HIV"}}}],"mark":{"type":"point","filled":true,"opacity":1,"size":24},
"encoding":{"x":{"field":"time","type":"nominal","scale":{"type":"band","domain":["Pre-ART","Month 3","Month 9","HIV⁻TB⁻"],"range":[-4,400],"paddingInner":0,"paddingOuter":0},"axis":{"title":null,"domain":false,"bandPosition":0,"offset":-12,"tickSize":20,"tickWidth":1.2,"tickColor":{"condition":{"test":"datum.value === 'Pre-ART'","value":"transparent"},"value":"#444"},"labelOffset":-31,"labelPadding":-3,"labelAlign":{"condition":{"test":"datum.value === 'HIV⁻TB⁻'","value":"center"},"value":"left"},"labelAngle":0,"labelFontSize":9,"labelOverlap":false}},
"xOffset":{"field":"group","type":"nominal","scale":{"domain":["G1","G2","G3"],"paddingInner":0,"paddingOuter":0.18,"align":0.41}},
"y":{"field":"value","type":"quantitative","scale":{"domain":[0,100],"range":[174,35],"nice":false},"axis":{"orient":"left","title":"% KLRG1⁺ of CD3⁻CD8ˡᵒ","values":[0,20,40,60,80,100],"tickCount":20,"titlePadding":9,"labelOverlap":false}},
"color":{"field":"group","type":"nominal","scale":{"domain":["G1","G2","G3","HIV"],"range":["#9e1a20","#2b6cc4","#5ba55a","#d4cf34"]},"legend":null},
"shape":{"field":"group","type":"nominal","scale":{"domain":["G1","G2","G3","HIV"],"range":["circle","triangle-up","square","diamond"]},"legend":null}}},
{"transform":[{"filter":{"field":"group","equal":"HIV"}}],"mark":{"type":"point","filled":true,"opacity":1,"size":24},
"encoding":{"x":{"field":"time","type":"nominal","bandPosition":0.23},"y":{"field":"value","type":"quantitative"},"color":{"field":"group","type":"nominal","legend":null},"shape":{"field":"group","type":"nominal","legend":null}}},
{"transform":[{"filter":{"not":{"field":"group","equal":"HIV"}}}],"mark":{"type":"tick","color":"#111","size":24,"thickness":1.3},
"encoding":{"x":{"field":"time","type":"nominal"},"xOffset":{"field":"group","type":"nominal"},"y":{"aggregate":"median","field":"value","type":"quantitative"}}},
{"transform":[{"filter":{"field":"group","equal":"HIV"}}],"mark":{"type":"point","shape":"M-1,0H1","filled":false,"color":"#111","strokeWidth":1.3,"size":576,"opacity":1},
"encoding":{"x":{"field":"time","type":"nominal","bandPosition":0.23},"y":{"aggregate":"median","field":"value","type":"quantitative"}}},
{"data":{"values":[{}]},"mark":{"type":"rule","color":"#000","strokeWidth":1.6},"encoding":{"y":{"datum":0}}}
]},
{"layer":[
{"data":{"name":"bracketLines"},"transform":[{"filter":{"field":"panel","equal":"B"}}],"mark":{"type":"line","color":"#000","strokeWidth":1},
"encoding":{"x":{"field":"time","type":"nominal"},"xOffset":{"field":"group","type":"nominal"},"y":{"field":"value","type":"quantitative","scale":{"domain":[0,100],"range":[174,35],"nice":false},"axis":null},"detail":{"field":"id"},"order":{"field":"k"}}},
{"data":{"name":"bracketText"},"transform":[{"filter":{"field":"panel","equal":"B"}}],"mark":{"type":"text","align":"left","baseline":"alphabetic","dy":-3,"dx":0,"fontSize":8,"fontWeight":"bold"},
"encoding":{"x":{"field":"time","type":"nominal"},"xOffset":{"field":"group","type":"nominal"},"y":{"field":"value","type":"quantitative","axis":null},"text":{"field":"label"}}}
]}
]},
{"title":{"text":"C","anchor":"start","frame":"group","fontSize":19,"fontWeight":"bold","baseline":"alphabetic","dx":-44,"offset":-88},
"width":340,"height":224,"data":{"name":"C"},
"resolve":{"scale":{"y":"independent"},"axis":{"y":"independent"}},
"layer":[
{"layer":[
{"transform":[{"filter":{"not":{"field":"group","equal":"HIV"}}}],"mark":{"type":"point","filled":true,"opacity":1,"size":24},
"encoding":{"x":{"field":"time","type":"nominal","scale":{"type":"band","domain":["Pre-ART","Month 3","Month 9","HIV⁻TB⁻"],"range":[-4,400],"paddingInner":0,"paddingOuter":0},"axis":{"title":null,"domain":false,"bandPosition":0,"offset":-12,"tickSize":20,"tickWidth":1.2,"tickColor":{"condition":{"test":"datum.value === 'Pre-ART'","value":"transparent"},"value":"#444"},"labelOffset":-31,"labelPadding":-3,"labelAlign":{"condition":{"test":"datum.value === 'HIV⁻TB⁻'","value":"center"},"value":"left"},"labelAngle":0,"labelFontSize":9,"labelOverlap":false}},
"xOffset":{"field":"group","type":"nominal","scale":{"domain":["G1","G2","G3"],"paddingInner":0,"paddingOuter":0.18,"align":0.41}},
"y":{"field":"value","type":"quantitative","scale":{"domain":[0,2],"range":[224,85],"nice":false},"axis":{"orient":"left","title":"MFI PD-1 in CD3⁻CD8ˡᵒ","values":[0,0.5,1,1.5,2],"tickCount":20,"labelExpr":"datum.value % 1 ? '' : datum.value","titlePadding":19,"labelOverlap":false}},
"color":{"field":"group","type":"nominal","scale":{"domain":["G1","G2","G3","HIV"],"range":["#9e1a20","#2b6cc4","#5ba55a","#d4cf34"]},"legend":null},
"shape":{"field":"group","type":"nominal","scale":{"domain":["G1","G2","G3","HIV"],"range":["circle","triangle-up","square","diamond"]},"legend":null}}},
{"transform":[{"filter":{"field":"group","equal":"HIV"}}],"mark":{"type":"point","filled":true,"opacity":1,"size":24},
"encoding":{"x":{"field":"time","type":"nominal","bandPosition":0.23},"y":{"field":"value","type":"quantitative"},"color":{"field":"group","type":"nominal","legend":null},"shape":{"field":"group","type":"nominal","legend":null}}},
{"transform":[{"filter":{"not":{"field":"group","equal":"HIV"}}}],"mark":{"type":"tick","color":"#111","size":24,"thickness":1.3},
"encoding":{"x":{"field":"time","type":"nominal"},"xOffset":{"field":"group","type":"nominal"},"y":{"aggregate":"median","field":"value","type":"quantitative"}}},
{"transform":[{"filter":{"field":"group","equal":"HIV"}}],"mark":{"type":"point","shape":"M-1,0H1","filled":false,"color":"#111","strokeWidth":1.3,"size":576,"opacity":1},
"encoding":{"x":{"field":"time","type":"nominal","bandPosition":0.23},"y":{"aggregate":"median","field":"value","type":"quantitative"}}},
{"data":{"values":[{}]},"mark":{"type":"rule","color":"#000","strokeWidth":1.6},"encoding":{"y":{"datum":0}}},
{"data":{"values":[{}]},"mark":{"type":"text","text":"x10³","align":"right","baseline":"alphabetic","fontSize":8.5,"dx":5,"dy":-7},"encoding":{"x":{"datum":"Pre-ART","bandPosition":0},"y":{"datum":2}}}
]},
{"layer":[
{"data":{"name":"bracketLines"},"transform":[{"filter":{"field":"panel","equal":"C"}}],"mark":{"type":"line","color":"#000","strokeWidth":1,"strokeDash":[3,2]},
"encoding":{"x":{"field":"time","type":"nominal"},"xOffset":{"field":"group","type":"nominal"},"y":{"field":"value","type":"quantitative","scale":{"domain":[0,2],"range":[224,85],"nice":false},"axis":null},"detail":{"field":"id"},"order":{"field":"k"}}},
{"data":{"name":"bracketText"},"transform":[{"filter":{"field":"panel","equal":"C"}}],"mark":{"type":"text","align":"left","baseline":"alphabetic","dy":-3,"dx":27,"fontSize":8,"fontWeight":"bold"},
"encoding":{"x":{"field":"time","type":"nominal"},"xOffset":{"field":"group","type":"nominal"},"y":{"field":"value","type":"quantitative","axis":null},"text":{"field":"label"}}}
]}
]},
{"title":{"text":"D","anchor":"start","frame":"group","fontSize":19,"fontWeight":"bold","baseline":"alphabetic","dx":-28,"offset":-88},
"width":340,"height":224,"data":{"name":"D"},
"layer":[
{"transform":[{"filter":{"not":{"field":"group","equal":"HIV"}}}],"mark":{"type":"point","filled":true,"opacity":1,"size":24},
"encoding":{"x":{"field":"time","type":"nominal","scale":{"type":"band","domain":["Pre-ART","Month 3","Month 9","HIV⁻TB⁻"],"range":[-4,400],"paddingInner":0,"paddingOuter":0},"axis":{"title":null,"domain":false,"bandPosition":0,"offset":-12,"tickSize":20,"tickWidth":1.2,"tickColor":{"condition":{"test":"datum.value === 'Pre-ART'","value":"transparent"},"value":"#444"},"labelOffset":-31,"labelPadding":-3,"labelAlign":{"condition":{"test":"datum.value === 'HIV⁻TB⁻'","value":"center"},"value":"left"},"labelAngle":0,"labelFontSize":9,"labelOverlap":false}},
"xOffset":{"field":"group","type":"nominal","scale":{"domain":["G1","G2","G3"],"paddingInner":0,"paddingOuter":0.18,"align":0.41}},
"y":{"field":"value","type":"quantitative","scale":{"domain":[0,100],"range":[224,85],"nice":false},"axis":{"title":"% PD-1⁺ of CD3⁻CD8ˡᵒ","values":[0,20,40,60,80,100],"tickCount":20,"titlePadding":9,"labelOverlap":false}},
"color":{"field":"group","type":"nominal","scale":{"domain":["G1","G2","G3","HIV"],"range":["#9e1a20","#2b6cc4","#5ba55a","#d4cf34"]},"legend":null},
"shape":{"field":"group","type":"nominal","scale":{"domain":["G1","G2","G3","HIV"],"range":["circle","triangle-up","square","diamond"]},"legend":null}}},
{"transform":[{"filter":{"field":"group","equal":"HIV"}}],"mark":{"type":"point","filled":true,"opacity":1,"size":24},
"encoding":{"x":{"field":"time","type":"nominal","bandPosition":0.23},"y":{"field":"value","type":"quantitative"},"color":{"field":"group","type":"nominal","legend":null},"shape":{"field":"group","type":"nominal","legend":null}}},
{"transform":[{"filter":{"not":{"field":"group","equal":"HIV"}}}],"mark":{"type":"tick","color":"#111","size":24,"thickness":1.3},
"encoding":{"x":{"field":"time","type":"nominal"},"xOffset":{"field":"group","type":"nominal"},"y":{"aggregate":"median","field":"value","type":"quantitative"}}},
{"transform":[{"filter":{"field":"group","equal":"HIV"}}],"mark":{"type":"point","shape":"M-1,0H1","filled":false,"color":"#111","strokeWidth":1.3,"size":576,"opacity":1},
"encoding":{"x":{"field":"time","type":"nominal","bandPosition":0.23},"y":{"aggregate":"median","field":"value","type":"quantitative"}}},
{"data":{"values":[{}]},"mark":{"type":"rule","color":"#000","strokeWidth":1.6},"encoding":{"y":{"datum":0}}}
]},
{"title":{"text":"E","anchor":"start","frame":"group","fontSize":19,"fontWeight":"bold","baseline":"alphabetic","dx":-47,"offset":-93},
"width":340,"height":235,"data":{"name":"E"},
"resolve":{"scale":{"y":"independent"},"axis":{"y":"independent"}},
"layer":[
{"layer":[
{"transform":[{"filter":{"not":{"field":"group","equal":"HIV"}}}],"mark":{"type":"point","filled":true,"opacity":1,"size":24},
"encoding":{"x":{"field":"time","type":"nominal","scale":{"type":"band","domain":["Pre-ART","Month 3","Month 9","HIV⁻TB⁻"],"range":[-4,400],"paddingInner":0,"paddingOuter":0},"axis":{"title":null,"domain":false,"bandPosition":0,"offset":-12,"tickSize":20,"tickWidth":1.2,"tickColor":{"condition":{"test":"datum.value === 'Pre-ART'","value":"transparent"},"value":"#444"},"labelOffset":-31,"labelPadding":-3,"labelAlign":{"condition":{"test":"datum.value === 'HIV⁻TB⁻'","value":"center"},"value":"left"},"labelAngle":0,"labelFontSize":9,"labelOverlap":false}},
"xOffset":{"field":"group","type":"nominal","scale":{"domain":["G1","G2","G3"],"paddingInner":0,"paddingOuter":0.18,"align":0.41}},
"y":{"field":"value","type":"quantitative","scale":{"domain":[0,0.2],"range":[235,97],"nice":false},"axis":{"orient":"left","title":"MFI IL-27R in CD3⁻CD8ˡᵒ","values":[0,0.05,0.1,0.15,0.2],"tickCount":20,"labelExpr":"abs(datum.value*10 - round(datum.value*10)) > 0.01 ? '' : format(datum.value, '.1f')","titlePadding":11,"labelOverlap":false}},
"color":{"field":"group","type":"nominal","scale":{"domain":["G1","G2","G3","HIV"],"range":["#9e1a20","#2b6cc4","#5ba55a","#d4cf34"]},"legend":null},
"shape":{"field":"group","type":"nominal","scale":{"domain":["G1","G2","G3","HIV"],"range":["circle","triangle-up","square","diamond"]},"legend":null}}},
{"transform":[{"filter":{"field":"group","equal":"HIV"}}],"mark":{"type":"point","filled":true,"opacity":1,"size":24},
"encoding":{"x":{"field":"time","type":"nominal","bandPosition":0.23},"y":{"field":"value","type":"quantitative"},"color":{"field":"group","type":"nominal","legend":null},"shape":{"field":"group","type":"nominal","legend":null}}},
{"transform":[{"filter":{"not":{"field":"group","equal":"HIV"}}}],"mark":{"type":"tick","color":"#111","size":24,"thickness":1.3},
"encoding":{"x":{"field":"time","type":"nominal"},"xOffset":{"field":"group","type":"nominal"},"y":{"aggregate":"median","field":"value","type":"quantitative"}}},
{"transform":[{"filter":{"field":"group","equal":"HIV"}}],"mark":{"type":"point","shape":"M-1,0H1","filled":false,"color":"#111","strokeWidth":1.3,"size":576,"opacity":1},
"encoding":{"x":{"field":"time","type":"nominal","bandPosition":0.23},"y":{"aggregate":"median","field":"value","type":"quantitative"}}},
{"data":{"values":[{}]},"mark":{"type":"rule","color":"#000","strokeWidth":1.6},"encoding":{"y":{"datum":0}}},
{"data":{"values":[{}]},"mark":{"type":"text","text":"x10³","align":"right","baseline":"alphabetic","fontSize":8.5,"dx":5,"dy":-7},"encoding":{"x":{"datum":"Pre-ART","bandPosition":0},"y":{"datum":0.2}}}
]},
{"layer":[
{"data":{"name":"bracketLines"},"transform":[{"filter":{"field":"panel","equal":"E"}}],"mark":{"type":"line","color":"#000","strokeWidth":1,"strokeDash":[3,2]},
"encoding":{"x":{"field":"time","type":"nominal"},"xOffset":{"field":"group","type":"nominal"},"y":{"field":"value","type":"quantitative","scale":{"domain":[0,0.2],"range":[235,97],"nice":false},"axis":null},"detail":{"field":"id"},"order":{"field":"k"}}},
{"data":{"name":"bracketText"},"transform":[{"filter":{"field":"panel","equal":"E"}}],"mark":{"type":"text","align":"left","baseline":"alphabetic","dy":-3,"dx":30,"fontSize":8,"fontWeight":"bold"},
"encoding":{"x":{"field":"time","type":"nominal"},"xOffset":{"field":"group","type":"nominal"},"y":{"field":"value","type":"quantitative","axis":null},"text":{"field":"label"}}}
]}
]},
{"title":{"text":"F","anchor":"start","frame":"group","fontSize":19,"fontWeight":"bold","baseline":"alphabetic","dx":-31,"offset":-95},
"width":340,"height":235,"data":{"name":"F"},
"resolve":{"scale":{"y":"independent"},"axis":{"y":"independent"}},
"layer":[
{"transform":[{"filter":{"field":"value","gte":20}}],"mark":{"type":"point","filled":true},
"encoding":{"x":{"field":"time","type":"nominal","scale":{"type":"band","domain":["Pre-ART","Month 3","Month 9","HIV⁻TB⁻"],"range":[-4,400],"paddingInner":0,"paddingOuter":0}},
"y":{"field":"value","type":"quantitative","scale":{"domain":[20,100],"range":[119,98],"nice":false,"zero":false},"axis":{"orient":"left","title":null,"values":[20,50,100],"tickCount":20,"labelExpr":"datum.value == 20 ? '' : datum.value","labelOverlap":false}}}},
{"layer":[
{"transform":[{"filter":{"not":{"field":"group","equal":"HIV"}}}],"mark":{"type":"point","filled":true,"opacity":1,"size":24},
"encoding":{"x":{"field":"time","type":"nominal","scale":{"type":"band","domain":["Pre-ART","Month 3","Month 9","HIV⁻TB⁻"],"range":[-4,400],"paddingInner":0,"paddingOuter":0},"axis":{"title":null,"domain":false,"bandPosition":0,"offset":-12,"tickSize":20,"tickWidth":1.2,"tickColor":{"condition":{"test":"datum.value === 'Pre-ART'","value":"transparent"},"value":"#444"},"labelOffset":-31,"labelPadding":-3,"labelAlign":{"condition":{"test":"datum.value === 'HIV⁻TB⁻'","value":"center"},"value":"left"},"labelAngle":0,"labelFontSize":9,"labelOverlap":false}},
"xOffset":{"field":"group","type":"nominal","scale":{"domain":["G1","G2","G3"],"paddingInner":0,"paddingOuter":0.18,"align":0.41}},
"y":{"field":"value","type":"quantitative","scale":{"domain":[0,20],"range":[235,123],"nice":false},"axis":{"orient":"left","title":"% IL-27R⁺in CD3⁻CD8ˡᵒ","values":[0,5,10,15,20],"tickCount":20,"titlePadding":6,"titleY":168,"labelOverlap":false}},
"color":{"field":"group","type":"nominal","scale":{"domain":["G1","G2","G3","HIV"],"range":["#9e1a20","#2b6cc4","#5ba55a","#d4cf34"]},"legend":null},
"shape":{"field":"group","type":"nominal","scale":{"domain":["G1","G2","G3","HIV"],"range":["circle","triangle-up","square","diamond"]},"legend":null}}},
{"transform":[{"filter":{"field":"group","equal":"HIV"}}],"mark":{"type":"point","filled":true,"opacity":1,"size":24},
"encoding":{"x":{"field":"time","type":"nominal","bandPosition":0.23},"y":{"field":"value","type":"quantitative"},"color":{"field":"group","type":"nominal","legend":null},"shape":{"field":"group","type":"nominal","legend":null}}},
{"transform":[{"filter":{"not":{"field":"group","equal":"HIV"}}}],"mark":{"type":"tick","color":"#111","size":24,"thickness":1.3},
"encoding":{"x":{"field":"time","type":"nominal"},"xOffset":{"field":"group","type":"nominal"},"y":{"aggregate":"median","field":"value","type":"quantitative"}}},
{"transform":[{"filter":{"field":"group","equal":"HIV"}}],"mark":{"type":"point","shape":"M-1,0H1","filled":false,"color":"#111","strokeWidth":1.3,"size":576,"opacity":1},
"encoding":{"x":{"field":"time","type":"nominal","bandPosition":0.23},"y":{"aggregate":"median","field":"value","type":"quantitative"}}},
{"data":{"values":[{}]},"mark":{"type":"rule","color":"#000","strokeWidth":1.6},"encoding":{"y":{"datum":0}}}
]}
]},
{"title":{"text":"G","anchor":"start","frame":"group","fontSize":19,"fontWeight":"bold","baseline":"alphabetic","dx":-47,"offset":-53},
"width":340,"height":199,"data":{"name":"G"},
"resolve":{"scale":{"y":"independent"},"axis":{"y":"independent"}},
"layer":[
{"layer":[
{"transform":[{"filter":{"not":{"field":"group","equal":"HIV"}}}],"mark":{"type":"point","filled":true,"opacity":1,"size":24},
"encoding":{"x":{"field":"time","type":"nominal","scale":{"type":"band","domain":["Pre-ART","Month 3","Month 9","HIV⁻TB⁻"],"range":[-4,400],"paddingInner":0,"paddingOuter":0},"axis":{"title":null,"domain":false,"bandPosition":0,"offset":-12,"tickSize":20,"tickWidth":1.2,"tickColor":{"condition":{"test":"datum.value === 'Pre-ART'","value":"transparent"},"value":"#444"},"labelOffset":-31,"labelPadding":-3,"labelAlign":{"condition":{"test":"datum.value === 'HIV⁻TB⁻'","value":"center"},"value":"left"},"labelAngle":0,"labelFontSize":9,"labelOverlap":false}},
"xOffset":{"field":"group","type":"nominal","scale":{"domain":["G1","G2","G3"],"paddingInner":0,"paddingOuter":0.18,"align":0.41}},
"y":{"field":"value","type":"quantitative","scale":{"domain":[0,100],"range":[199,59],"nice":false},"axis":{"orient":"left","title":"% PD-1⁺/KLRG1⁺ of CD3⁻CD8ˡᵒ","values":[0,20,40,60,80,100],"tickCount":20,"titlePadding":11,"labelOverlap":false}},
"color":{"field":"group","type":"nominal","scale":{"domain":["G1","G2","G3","HIV"],"range":["#9e1a20","#2b6cc4","#5ba55a","#d4cf34"]},"legend":null},
"shape":{"field":"group","type":"nominal","scale":{"domain":["G1","G2","G3","HIV"],"range":["circle","triangle-up","square","diamond"]},"legend":null}}},
{"transform":[{"filter":{"field":"group","equal":"HIV"}}],"mark":{"type":"point","filled":true,"opacity":1,"size":24},
"encoding":{"x":{"field":"time","type":"nominal","bandPosition":0.23},"y":{"field":"value","type":"quantitative"},"color":{"field":"group","type":"nominal","legend":null},"shape":{"field":"group","type":"nominal","legend":null}}},
{"transform":[{"filter":{"not":{"field":"group","equal":"HIV"}}}],"mark":{"type":"tick","color":"#111","size":24,"thickness":1.3},
"encoding":{"x":{"field":"time","type":"nominal"},"xOffset":{"field":"group","type":"nominal"},"y":{"aggregate":"median","field":"value","type":"quantitative"}}},
{"transform":[{"filter":{"field":"group","equal":"HIV"}}],"mark":{"type":"point","shape":"M-1,0H1","filled":false,"color":"#111","strokeWidth":1.3,"size":576,"opacity":1},
"encoding":{"x":{"field":"time","type":"nominal","bandPosition":0.23},"y":{"aggregate":"median","field":"value","type":"quantitative"}}},
{"data":{"values":[{}]},"mark":{"type":"rule","color":"#000","strokeWidth":1.6},"encoding":{"y":{"datum":0}}}
]},
{"layer":[
{"data":{"name":"bracketLines"},"transform":[{"filter":{"field":"panel","equal":"G"}}],"mark":{"type":"line","color":"#000","strokeWidth":1,"strokeDash":[3,2]},
"encoding":{"x":{"field":"time","type":"nominal"},"xOffset":{"field":"group","type":"nominal"},"y":{"field":"value","type":"quantitative","scale":{"domain":[0,100],"range":[199,59],"nice":false},"axis":null},"detail":{"field":"id"},"order":{"field":"k"}}},
{"data":{"name":"bracketText"},"transform":[{"filter":{"field":"panel","equal":"G"}}],"mark":{"type":"text","align":"left","baseline":"alphabetic","dy":-3,"dx":0,"fontSize":8,"fontWeight":"bold"},
"encoding":{"x":{"field":"time","type":"nominal"},"xOffset":{"field":"group","type":"nominal"},"y":{"field":"value","type":"quantitative","axis":null},"text":{"field":"label"}}}
]}
]}
]
}
